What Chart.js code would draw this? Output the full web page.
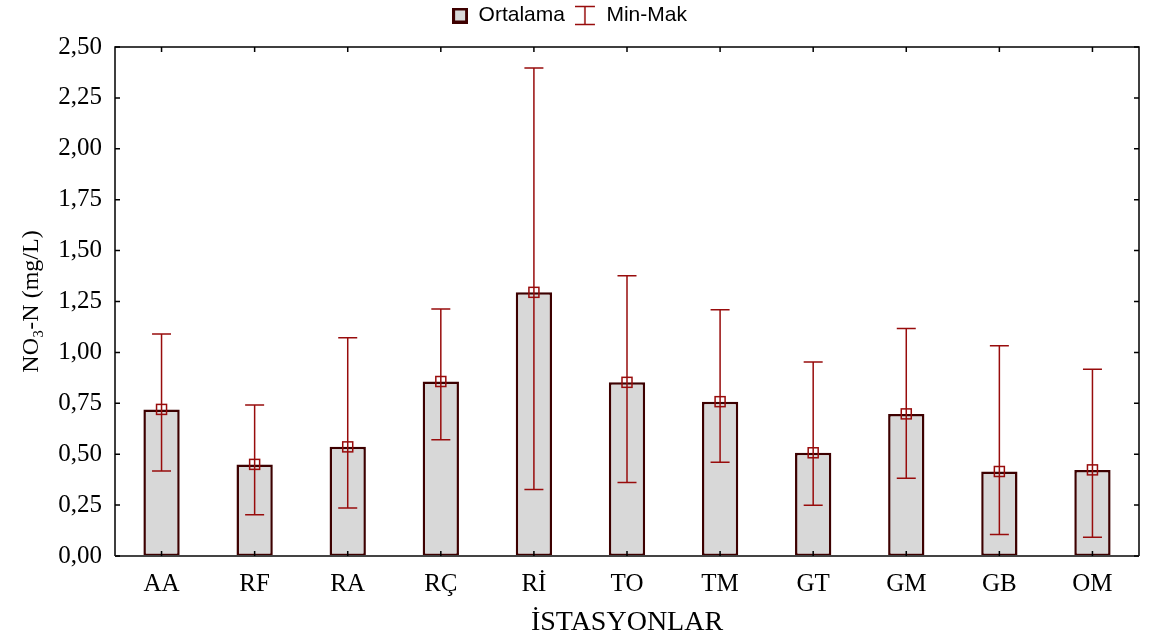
<!DOCTYPE html>
<html>
<head>
<meta charset="utf-8">
<script src="https://cdn.jsdelivr.net/npm/chart.js@4.4.1/dist/chart.umd.min.js"></script>
<style>
html,body{margin:0;padding:0;background:#ffffff;}
canvas{display:block;}
</style>
</head>
<body>
<canvas id="chart" width="1150" height="641"></canvas>
<script>
// ---- Data ----
const categories = ['AA', 'RF', 'RA', 'RÇ', 'Rİ', 'TO', 'TM', 'GT', 'GM', 'GB', 'OM'];
const meanVals = [0.720, 0.450, 0.536, 0.857, 1.295, 0.853, 0.758, 0.507, 0.698, 0.415, 0.423];
const minVals  = [0.418, 0.203, 0.236, 0.571, 0.327, 0.361, 0.461, 0.249, 0.382, 0.105, 0.092];
const maxVals  = [1.090, 0.742, 1.072, 1.213, 2.397, 1.377, 1.210, 0.953, 1.117, 1.033, 0.917];
const yTickValues = [0, 0.25, 0.5, 0.75, 1, 1.25, 1.5, 1.75, 2, 2.25, 2.5];
const yTickLabels = ['0,00', '0,25', '0,50', '0,75', '1,00', '1,25', '1,50', '1,75', '2,00', '2,25', '2,50'];
const legendLabels = ['Ortalama', 'Min-Mak'];
const xTitle = 'İSTASYONLAR';
const yTitle = 'NO₃-N (mg/L)';

// ---- Styles ----
const barFill = '#d8d8d8';
const barEdge = '#3d0000';
const errColor = '#980c0c';
const serif = "'Liberation Serif', 'Times New Roman', serif";
const sans = "'Liberation Sans', Arial, sans-serif";

function makeBoxIcon() {
  const c = document.createElement('canvas');
  c.width = 16; c.height = 16;
  const g = c.getContext('2d');
  g.fillStyle = barEdge; g.fillRect(0, 0, 16, 16);
  g.fillStyle = barFill; g.fillRect(3, 3, 10, 10);
  return c;
}
function makeBeamIcon() {
  // 26 px wide canvas, beam drawn in its left 20 px
  const c = document.createElement('canvas');
  c.width = 26; c.height = 21;
  const g = c.getContext('2d');
  g.strokeStyle = errColor; g.lineWidth = 1.5;
  g.beginPath();
  g.moveTo(0, 1.5); g.lineTo(20, 1.5);
  g.moveTo(10, 1.5); g.lineTo(10, 19.5);
  g.moveTo(0, 19.5); g.lineTo(20, 19.5);
  g.stroke();
  return c;
}
const boxIcon = makeBoxIcon();
const beamIcon = makeBeamIcon();

const legendHeightPlugin = {
  id: 'legendHeight',
  beforeLayout(chart) {
    const lg = chart.legend;
    if (lg && !lg._fixedH) {
      const f = lg.fit;
      lg.fit = function () { f.call(this); this.height = 57; };
      lg._fixedH = true;
    }
  }
};

const framePlugin = {
  id: 'frame',
  afterDatasetsDraw(chart) {
    const { ctx, chartArea: a, scales: { x, y } } = chart;
    ctx.save();
    // error bars + markers
    ctx.strokeStyle = errColor;
    ctx.lineWidth = 1.5;
    categories.forEach((c, i) => {
      const px = x.getPixelForValue(i);
      const yMin = y.getPixelForValue(minVals[i]);
      const yMax = y.getPixelForValue(maxVals[i]);
      const yMean = y.getPixelForValue(meanVals[i]);
      ctx.beginPath();
      ctx.moveTo(px, yMin); ctx.lineTo(px, yMax);
      ctx.moveTo(px - 9.5, yMax); ctx.lineTo(px + 9.5, yMax);
      ctx.moveTo(px - 9.5, yMin); ctx.lineTo(px + 9.5, yMin);
      ctx.stroke();
      ctx.strokeRect(px - 5, yMean - 5, 10, 10);
    });
    // frame
    ctx.lineWidth = 1.5;
    ctx.strokeStyle = '#000';
    ctx.beginPath();
    ctx.moveTo(a.left, a.bottom); ctx.lineTo(a.left, a.top);
    ctx.lineTo(a.right, a.top); ctx.lineTo(a.right, a.bottom);
    ctx.stroke();
    ctx.strokeStyle = '#444';
    ctx.lineWidth = 2;
    ctx.beginPath();
    ctx.moveTo(a.left, a.bottom); ctx.lineTo(a.right, a.bottom);
    ctx.stroke();
    // inside ticks
    ctx.strokeStyle = '#000';
    ctx.lineWidth = 1.5;
    ctx.beginPath();
    yTickValues.forEach(v => {
      const py = y.getPixelForValue(v);
      ctx.moveTo(a.left, py); ctx.lineTo(a.left + 5, py);
      ctx.moveTo(a.right, py); ctx.lineTo(a.right - 5, py);
    });
    categories.forEach((c, i) => {
      const px = x.getPixelForValue(i);
      ctx.moveTo(px, a.top); ctx.lineTo(px, a.top + 5);
      ctx.moveTo(px, a.bottom); ctx.lineTo(px, a.bottom - 5);
    });
    ctx.stroke();
    ctx.restore();
  }
};

new Chart(document.getElementById('chart'), {
  type: 'bar',
  data: {
    labels: categories,
    datasets: [{
      label: legendLabels[0],
      data: meanVals,
      backgroundColor: barFill,
      borderColor: barEdge,
      borderWidth: 2.5,
      borderSkipped: false,
      barPercentage: 0.39,
      categoryPercentage: 1.0
    }]
  },
  options: {
    responsive: false,
    animation: false,
    layout: { padding: { left: 0, right: 11, top: -10, bottom: 0 } },
    plugins: {
      tooltip: { enabled: false },
      legend: {
        display: true,
        position: 'top',
        onClick: null,
        labels: {
          usePointStyle: true,
          boxWidth: 16,
          boxHeight: 16,
          padding: 15,
          color: '#000',
          font: { family: sans, size: 21 },
          generateLabels: () => [
            { text: legendLabels[0], pointStyle: boxIcon, fillStyle: barFill, strokeStyle: barEdge, lineWidth: 0, hidden: false, datasetIndex: 0 },
            { text: legendLabels[1], pointStyle: beamIcon, fillStyle: errColor, strokeStyle: errColor, lineWidth: 0, hidden: false, datasetIndex: 0 }
          ]
        }
      }
    },
    scales: {
      x: {
        offset: true,
        grid: { display: false, drawTicks: false },
        border: { display: false },
        ticks: { color: '#000', padding: 13, font: { family: serif, size: 25 } },
        title: { display: true, text: xTitle, color: '#000', font: { family: serif, size: 28 }, padding: { top: 0, bottom: 2 } },
        afterFit(s) { s.height = 85; }
      },
      y: {
        min: 0,
        max: 2.5,
        grid: { display: false, drawTicks: false },
        border: { display: false },
        afterBuildTicks(s) { s.ticks = yTickValues.map(v => ({ value: v })); },
        ticks: {
          color: '#000',
          padding: 13,
          font: { family: serif, size: 25 },
          callback: (v) => { const i = yTickValues.indexOf(v); return i >= 0 ? yTickLabels[i] : ''; }
        },
        title: { display: true, text: yTitle, color: '#000', font: { family: serif, size: 24 }, padding: { top: 17, bottom: 0 } },
        afterFit(s) { s.width = 115; }
      }
    }
  },
  plugins: [legendHeightPlugin, framePlugin]
});
</script>
</body>
</html>
